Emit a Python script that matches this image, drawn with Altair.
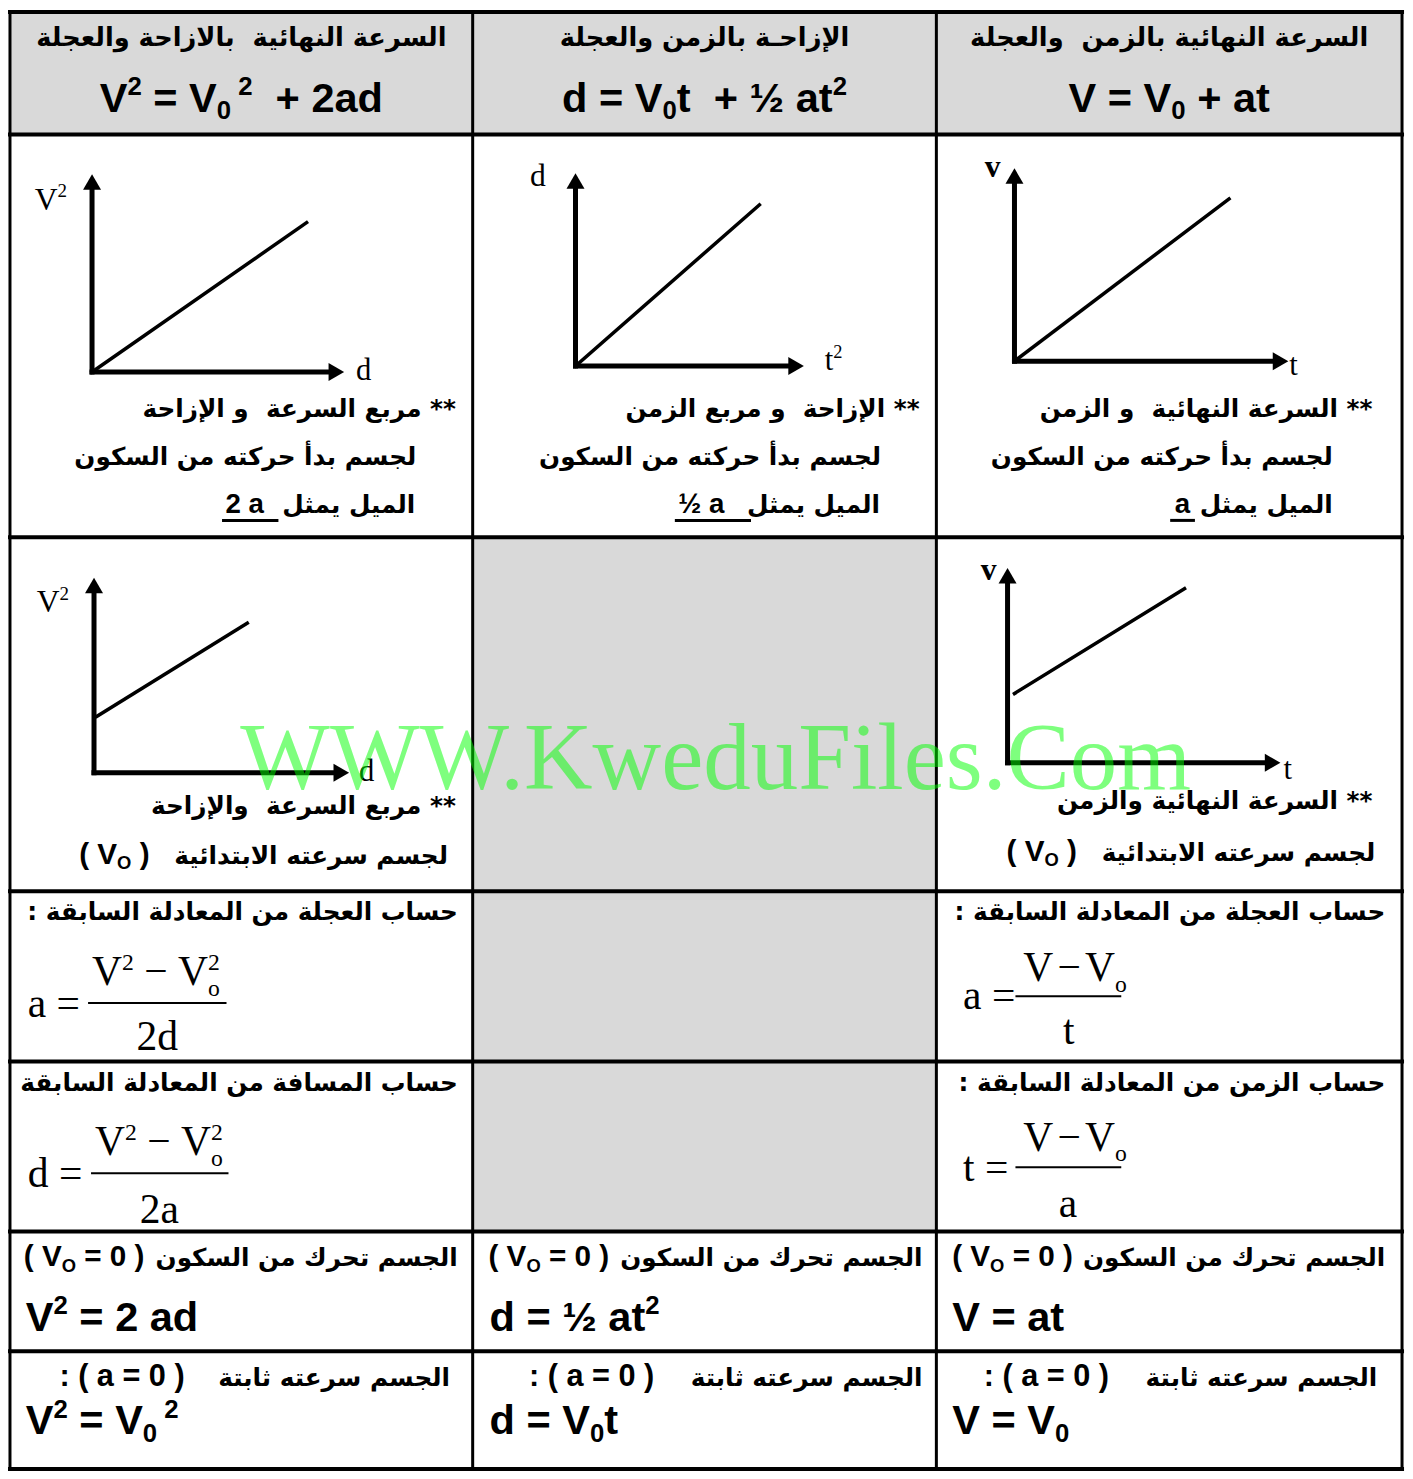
import altair as alt
import pandas as pd

# ---------------------------------------------------------------- canvas
W_IMG, H_IMG = 1413, 1479          # reference coordinate system
W, H = 1397, 1463                  # drawable area (page has an 8px margin)
S = W / W_IMG
NB = "\u00a0"                      # non-collapsing space for double gaps

# ---------------------------------------------------------------- table structure
col_edges = [2, 470, 939, 1410]
row_edges = [4, 128, 535, 893, 1065, 1237, 1358, 1477]
gray_cells = [(0, 0), (1, 0), (2, 0), (1, 2), (1, 3), (1, 4)]   # (column, row)

# ---------------------------------------------------------------- texts
header_titles = ["السرعة النهائية " + NB + "بالازاحة والعجلة",
                 "الإزاحـة بالزمن والعجلة",
                 "السرعة النهائية بالزمن " + NB + "والعجلة"]
header_formulas = [
    [("V", "n"), ("2", "sup"), (" = V", "n"), ("0", "sub"), (" 2", "sup"), ("  + 2ad", "n")],
    [("d = V", "n"), ("0", "sub"), ("t  + ½ at", "n"), ("2", "sup")],
    [("V = V", "n"), ("0", "sub"), (" + at", "n")],
]

row2_lines = [
    ["مربع السرعة " + NB + "و الإزاحة **", "لجسم بدأ حركته من السكون", "الميل يمثل"],
    ["الإزاحة " + NB + "و مربع الزمن **", "لجسم بدأ حركته من السكون", "الميل يمثل"],
    ["السرعة النهائية " + NB + "و الزمن **", "لجسم بدأ حركته من السكون", "الميل يمثل"],
]
row2_slopes = ["2 a", "½ a", "a"]

row3_lines = {0: ["مربع السرعة " + NB + "والإزاحة **", "لجسم سرعته الابتدائية"],
              2: ["السرعة النهائية والزمن **", "لجسم سرعته الابتدائية"]}
row3_latin = [("( V", "n"), ("O", "sub"), (" )", "n")]

calc_titles = {0: [": حساب العجلة من المعادلة السابقة", "حساب المسافة من المعادلة السابقة"],
               2: [": حساب العجلة من المعادلة السابقة", ": حساب الزمن من المعادلة السابقة"]}

NUM_SQ = [("V", "n"), ("2", "sup"), (" − ", "n"), ("V", "n"), ("o", "sub0"), ("2", "sup")]
NUM_LIN = [("V\u2009−\u2009V", "n"), ("o", "sub")]
fractions = [  # lhs, numerator, denominator
    ("a =", NUM_SQ, "2d"),
    ("d =", NUM_SQ, "2a"),
    ("a =", NUM_LIN, "t"),
    ("t =", NUM_LIN, "a"),
]

rest_title = "الجسم تحرك من السكون"
rest_cond = [("( V", "n"), ("O", "sub"), (" = 0 )", "n")]
rest_formulas = [
    [("V", "n"), ("2", "sup"), (" = 2 ad", "n")],
    [("d = ½ at", "n"), ("2", "sup")],
    [("V = at", "n")],
]
const_title = "الجسم سرعته ثابتة"
const_cond = [(": ( a = 0 )", "n")]
const_formulas = [
    [("V", "n"), ("2", "sup"), (" = V", "n"), ("0", "sub"), (" 2", "sup")],
    [("d = V", "n"), ("0", "sub"), ("t", "n")],
    [("V = V", "n"), ("0", "sub")],
]

# sketch graphs: y-label runs and x-label runs ("b" = bold)
graph_ylabels = [[("V", "n"), ("2", "sup")], [("d", "n")], [("v", "b")],
                 [("V", "n"), ("2", "sup")], [("v", "b")]]
graph_xlabels = [[("d", "n")], [("t", "n"), ("2", "sup")], [("t", "n")],
                 [("d", "n")], [("t", "n")]]

watermark = "WWW.KweduFiles.Com"

# ---------------------------------------------------------------- layout (positions)
header_title_base = 38
header_formula_base = 105
row2_right = [[453, 413, 412], [922, 883, 882], [1380, 1340, 1340]]
row2_base = [413, 462, 511]
row2_slope_x = [220, 678, 1180]
row2_underline = [(218, 272), (676, 750), (1177, 1199)]
row3_right = {0: [453, 445], 2: [1380, 1383]}
row3_base = {0: [815, 865], 2: [810, 862]}
row3_latin_x = {0: 72, 2: 1010}
calc_right = {0: 455, 2: 1393}
calc_base = [922, 1095]
# lhs x, lhs base, num x, num base, bar x1, bar x2, bar y, den centre, den base
fraction_pos = [
    (20, 1020, 85, 988, 82, 220, 1006, 151, 1053),
    (20, 1192, 88, 1160, 85, 222, 1178, 153, 1228),
    (966, 1012, 1027, 984, 1020, 1125, 999, 1073, 1047),
    (966, 1186, 1027, 1155, 1020, 1125, 1172, 1072, 1222),
]
rest_title_right = [455, 925, 1393]
rest_cond_x = [16, 486, 955]
rest_title_base, rest_formula_base = 1272, 1337
const_title_right = [447, 925, 1385]
const_cond_x = [52, 527, 987]
const_title_base, const_formula_base = 1393, 1442
formula_x = [18, 487, 955]
# graph geometry: origin, y arrow tip, x arrow tip, line start, line end, ylabel pos, xlabel pos
graph_geom = [
    ((85, 368), 168, 340, (85, 368), (302, 217), (27, 204), (352, 376)),
    ((574, 362), 167, 805, (574, 362), (760, 199), (528, 180), (826, 366)),
    ((1018, 357), 162, 1295, (1018, 357), (1235, 193), (988, 171), (1296, 371)),
    ((87, 773), 576, 345, (90, 716), (242, 622), (29, 611), (355, 781)),
    ((1011, 763), 566, 1287, (1018, 693), (1190, 587), (984, 578), (1290, 779)),
]
watermark_pos = (235, 790)

# ---------------------------------------------------------------- font metrics
ARIAL_B = {' ': 0.278, '(': 0.333, ')': 0.333, ':': 0.333, '=': 0.584, '+': 0.584,
           'V': 0.667, 'O': 0.778, 'a': 0.556, 'd': 0.611, 't': 0.333, '½': 0.834}
TIMES = {' ': 0.25, '\u2009': 0.1, 'V': 0.722, '−': 0.564, '=': 0.564, 'a': 0.444,
         'd': 0.5, 't': 0.278, 'o': 0.5, 'v': 0.5}
SPACES = (" ", "\u2009")


def cw(ch, metrics):
    if ch.isdigit():
        return 0.556 if metrics is ARIAL_B else 0.5
    return metrics.get(ch, 0.55)


def width(runs, size, metrics, ss=0.62):
    w = 0
    for text, kind in runs:
        fs = size if kind in ("n", "b") else size * ss
        if kind != "sub0":
            w += sum(cw(c, metrics) for c in text) * fs
    return w


def layout(runs, x0, y0, size, metrics, ss=0.62, up=0.40, down=0.18):
    """Place text runs word by word; spaces only advance the pen."""
    out = []
    x = x0
    for text, kind in runs:
        if kind in ("n", "b"):
            fs, dy = size, 0
        elif kind == "sup":
            fs, dy = size * ss, -up * size
        else:
            fs, dy = size * ss, down * size
        xx = x
        tok, tok_x = "", xx
        for ch in text:
            if ch in SPACES:
                if tok:
                    out.append(dict(x=tok_x, y=y0 + dy, text=tok, fs=fs * S, bold=kind == "b"))
                    tok = ""
            else:
                if not tok:
                    tok_x = xx
                tok += ch
            xx += cw(ch, metrics) * fs
        if tok:
            out.append(dict(x=tok_x, y=y0 + dy, text=tok, fs=fs * S, bold=kind == "b"))
        if kind != "sub0":
            x = xx
    return out


# ---------------------------------------------------------------- build tables
rects = []
for c, r in gray_cells:
    rects.append(dict(x=col_edges[c], x2=col_edges[c + 1], y=row_edges[r], y2=row_edges[r + 1]))

grid = []
for y in row_edges:
    grid.append(dict(x=col_edges[0], x2=col_edges[-1], y=y, y2=y, w=4))
for x in col_edges:
    grid.append(dict(x=x, x2=x, y=row_edges[0], y2=row_edges[-1], w=3))

segs, tri_up, tri_right = [], [], []
ar_right, ar_center, latin, serif, serif_b = [], [], [], [], []

AR_HEAD = 26   # Arabic font sizes (reference units)
AR = 25
LAT = 42

# header
for i in range(3):
    cx = (col_edges[i] + col_edges[i + 1]) / 2
    ar_center.append(dict(x=cx, y=header_title_base, text=header_titles[i], fs=AR_HEAD * S))
    w = width(header_formulas[i], LAT, ARIAL_B)
    latin += layout(header_formulas[i], cx - w / 2, header_formula_base, LAT, ARIAL_B)

# row 2
for i in range(3):
    for j in range(3):
        ar_right.append(dict(x=row2_right[i][j], y=row2_base[j], text=row2_lines[i][j], fs=AR * S))
    latin += layout([(row2_slopes[i], "n")], row2_slope_x[i], row2_base[2], 28, ARIAL_B)
    u1, u2 = row2_underline[i]
    segs.append(dict(x=u1, x2=u2, y=row2_base[2] + 7, y2=row2_base[2] + 7, w=3))

# row 3
for c in (0, 2):
    for j in range(2):
        ar_right.append(dict(x=row3_right[c][j], y=row3_base[c][j], text=row3_lines[c][j], fs=AR * S))
    latin += layout(row3_latin, row3_latin_x[c], row3_base[c][1], 30, ARIAL_B)

# rows 4-5
for c in (0, 2):
    for j in range(2):
        ar_right.append(dict(x=calc_right[c], y=calc_base[j], text=calc_titles[c][j], fs=AR * S))
for (lhs, num, den), (lx, lb, nx, nb, b1, b2, by, dcx, db) in zip(fractions, fraction_pos):
    serif += layout([(lhs, "n")], lx, lb, 42, TIMES)
    serif += layout(num, nx, nb, 42, TIMES, ss=0.57, up=0.38, down=0.25)
    dw = width([(den, "n")], 42, TIMES)
    serif += layout([(den, "n")], dcx - dw / 2, db, 42, TIMES)
    segs.append(dict(x=b1, x2=b2, y=by, y2=by, w=2))

# rows 6-7
for i in range(3):
    ar_right.append(dict(x=rest_title_right[i], y=rest_title_base, text=rest_title, fs=AR * S))
    latin += layout(rest_cond, rest_cond_x[i], rest_title_base, 30, ARIAL_B)
    latin += layout(rest_formulas[i], formula_x[i], rest_formula_base, LAT, ARIAL_B)
    ar_right.append(dict(x=const_title_right[i], y=const_title_base, text=const_title, fs=AR * S))
    latin += layout(const_cond, const_cond_x[i], const_title_base, 31, ARIAL_B)
    latin += layout(const_formulas[i], formula_x[i], const_formula_base, LAT, ARIAL_B)

# graphs
HEAD = 18                       # arrow head width (px)
h = 0.866 * HEAD / 2 / S        # half height of the head in reference units
for g, ylab, xlab in zip(graph_geom, graph_ylabels, graph_xlabels):
    (ox, oy), ytip, xtip, (l1x, l1y), (l2x, l2y), (ylx, yly), (xlx, xly) = g
    segs.append(dict(x=ox, x2=ox, y=oy, y2=ytip + h, w=5))
    segs.append(dict(x=ox, x2=xtip - h, y=oy, y2=oy, w=5))
    segs.append(dict(x=l1x, x2=l2x, y=l1y, y2=l2y, w=3.5))
    tri_up.append(dict(x=ox, y=ytip + h))
    tri_right.append(dict(x=xtip - h, y=oy))
    for item in layout(ylab, ylx, yly, 32, TIMES, ss=0.6, up=0.40):
        (serif_b if item["bold"] else serif).append(item)
    for item in layout(xlab, xlx, xly, 31, TIMES, ss=0.6, up=0.40):
        (serif_b if item["bold"] else serif).append(item)

wm = [dict(x=watermark_pos[0], y=watermark_pos[1], text=watermark, fs=96 * S)]

# ---------------------------------------------------------------- chart
xs = alt.Scale(domain=[0, W_IMG], nice=False, zero=False)
ys = alt.Scale(domain=[0, H_IMG], nice=False, zero=False, reverse=True)


def X(f="x"):
    return alt.X(f"{f}:Q", scale=xs, axis=None)


def Y(f="y"):
    return alt.Y(f"{f}:Q", scale=ys, axis=None)


def D(rows):
    return alt.Data(values=rows)


rect_layer = alt.Chart(D(rects)).mark_rect(color="#D9D9D9").encode(
    x=X(), x2="x2:Q", y=Y(), y2="y2:Q")

grid_layer = alt.Chart(D(grid)).mark_rule(color="black", strokeCap="square").encode(
    x=X(), x2="x2:Q", y=Y(), y2="y2:Q", size=alt.Size("w:Q", scale=None, legend=None))

seg_layer = alt.Chart(D(segs)).mark_rule(color="black", strokeCap="square").encode(
    x=X(), x2="x2:Q", y=Y(), y2="y2:Q", size=alt.Size("w:Q", scale=None, legend=None))

up_layer = alt.Chart(D(tri_up)).mark_point(
    shape="triangle-up", filled=True, color="black", opacity=1, size=HEAD * HEAD).encode(x=X(), y=Y())
right_layer = alt.Chart(D(tri_right)).mark_point(
    shape="triangle-right", filled=True, color="black", opacity=1, size=HEAD * HEAD).encode(x=X(), y=Y())


def text_layer(rows, **kw):
    return alt.Chart(D(rows)).mark_text(baseline="alphabetic", color="black", **kw).encode(
        x=X(), y=Y(), text="text:N", size=alt.Size("fs:Q", scale=None, legend=None))


ar_r_layer = text_layer(ar_right, align="right", font="DejaVu Sans", fontWeight="bold")
ar_c_layer = text_layer(ar_center, align="center", font="DejaVu Sans", fontWeight="bold")
lat_layer = text_layer(latin, align="left", font="Liberation Sans", fontWeight="bold")
serif_layer = text_layer(serif, align="left", font="Liberation Serif")
serif_b_layer = text_layer(serif_b, align="left", font="Liberation Serif", fontWeight="bold")
wm_layer = alt.Chart(D(wm)).mark_text(
    baseline="alphabetic", align="left", font="Liberation Serif", color="#00ff00", opacity=0.5).encode(
    x=X(), y=Y(), text="text:N", size=alt.Size("fs:Q", scale=None, legend=None))

chart = alt.layer(
    rect_layer, seg_layer, up_layer, right_layer,
    ar_r_layer, ar_c_layer, lat_layer, serif_layer, serif_b_layer,
    grid_layer, wm_layer,
).properties(
    width=W, height=H, padding=0,
    autosize=alt.AutoSizeParams(type="none"),
    background="white",
).configure_view(stroke=None)

chart.save("out.html", embed_options={"renderer": "svg", "actions": False})
